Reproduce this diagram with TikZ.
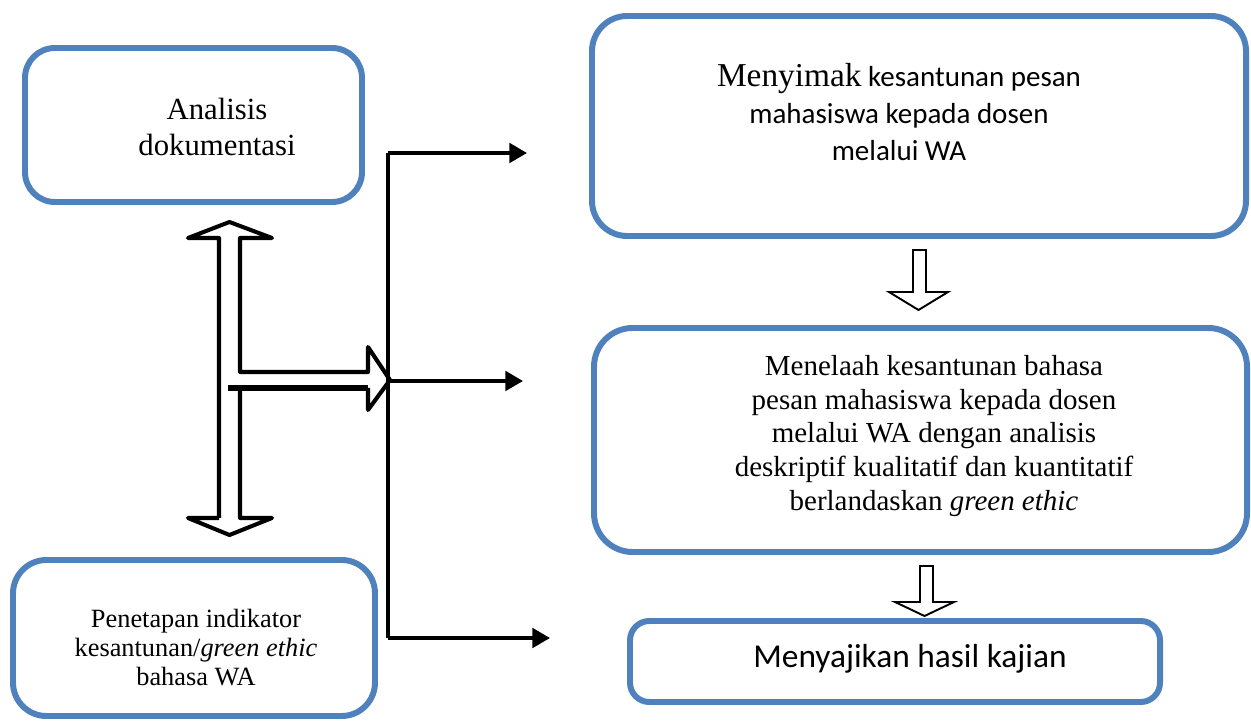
\documentclass[tikz,border=0pt]{standalone}
\usepackage{fontspec}
\setmainfont{Liberation Serif}
\newfontfamily\calibrifont{Carlito}
\usepackage{tikz}
\usetikzlibrary{fit,arrows.meta}

\definecolor{boxblue}{HTML}{4F81BD}

\tikzset{
  box/.style={draw=boxblue, line width=3.4pt, inner sep=0pt, rounded corners=#1},
  box/.default=16pt,
  bus/.style={draw=black, line width=2.2pt},
  branch/.style={bus, -{Triangle[length=10pt,width=11pt]}},
  hollow/.style={draw=black, line width=2.3pt, line join=round},
  thinhollow/.style={draw=black, line width=1.1pt, fill=white}
}

\begin{document}
\begin{tikzpicture}[x=0.02cm, y=-0.02cm]
  \useasboundingbox (0,0) rectangle (1251,722);

  \node[box=17pt, fit={(25,48) (362,202)}] (analisis) {};
  \node[box=19pt, fit={(13,560) (375,716)}] (penetapan) {};
  \node[box=20pt, fit={(592,16) (1246,236)}] (menyimak) {};
  \node[box=22pt, fit={(594,328) (1247,552)}] (menelaah) {};
  \node[box=11pt, fit={(630,621) (1160,702)}] (menyajikan) {};

  \node[font={\fontsize{17.5}{20.4}\selectfont}, align=center] (tAnalisis) at (217,127) {Analisis\\dokumentasi};
  \node[font={\fontsize{15}{16.5}\selectfont}, align=center] (tPenetapan) at (196,648) {Penetapan indikator\\kesantunan/\textit{green ethic}\\bahasa WA};
  \node[font={\calibrifont\fontsize{16.5}{21.3}\selectfont}, align=center] (tMenyimak) at (899,112) {{\rmfamily\fontsize{19}{21.3}\selectfont Menyimak} kesantunan pesan\\mahasiswa kepada dosen\\melalui WA};
  \node[font={\fontsize{16.5}{19.2}\selectfont}, align=center] (tMenelaah) at (934,436) {Menelaah kesantunan bahasa\\pesan mahasiswa kepada dosen\\melalui WA dengan analisis\\deskriptif kualitatif dan kuantitatif\\berlandaskan \textit{green ethic}};
  \node[font={\calibrifont\fontsize{19}{21}\selectfont}, anchor=base] (tMenyajikan) at (910,667) {Menyajikan hasil kajian};

  \draw[hollow] (219,518) -- (219,238) -- (188,238) -- (229.5,222) -- (272,238) -- (240,238) -- (240,372)
    -- (368,372) -- (368,347) -- (390,380) -- (368,410) -- (368,388);
  \draw[hollow] (240,388) -- (240,518) -- (272,518) -- (229.5,535) -- (188,518) -- (219,518);
  \draw[black, line width=3.2pt] (228,388) -- (368,388);

  \coordinate (busTop) at (388,153);
  \coordinate (busBottom) at (388,638);
  \coordinate (tipMid) at (390,381);
  \coordinate (endTop) at (527,153);
  \coordinate (endMid) at (523,381);
  \coordinate (endBottom) at (550,638);

  \draw[bus] (busTop) -- (busBottom);
  \draw[branch] (busTop) -- (endTop);
  \draw[branch] (tipMid) -- (endMid);
  \draw[branch] (busBottom) -- (endBottom);

  \draw[thinhollow] (913,250) -- (913,292) -- (889,292) -- (918.5,310) -- (948,292) -- (926,292) -- (926,250) -- cycle;
  \draw[thinhollow] (920,566) -- (920,602) -- (895,602) -- (924.5,616) -- (954,602) -- (933,602) -- (933,566) -- cycle;
\end{tikzpicture}
\end{document}
